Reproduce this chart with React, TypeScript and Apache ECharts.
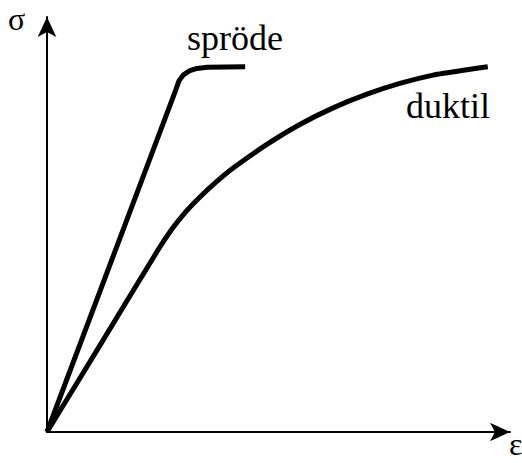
import React, { useEffect, useRef } from "react";
import * as echarts from "echarts";

// strain (ε) and stress (σ) in relative units 0..100
const sprodeStrain = [0, 27.8, 28.5, 29.4, 30.7, 32.4, 34.6, 42.8];
const sprodeStress = [0, 82.4, 84.6, 86.0, 87.0, 87.6, 87.9, 88.0];

const duktilStrain = [0, 11.5, 24.0, 27.0, 30.0, 33.1, 36.5, 40.2, 47.5, 54.6, 61.8, 69.1, 76.2, 83.4, 90.7, 95.2];
const duktilStress = [0, 21.0, 43.9, 48.9, 53.1, 56.7, 60.2, 63.6, 69.3, 74.1, 78.1, 81.4, 84.0, 86.0, 87.3, 88.0];

const curveLabels = ["spröde", "duktil"];
const axisLabels = ["σ", "ε"];

const FONT = "'Liberation Serif', 'Times New Roman', serif";

export default function App() {
  const ref = useRef<HTMLDivElement>(null);
  useEffect(() => {
    if (!ref.current) return;
    const chart = echarts.init(ref.current, null, { renderer: "svg" });
    const pair = (xs: number[], ys: number[]) => xs.map((x, i) => [x, ys[i]]);
    const axisCommon = {
      type: "value" as const,
      min: 0,
      max: 100,
      axisTick: { show: false },
      axisLabel: { show: false },
      splitLine: { show: false },
      axisLine: {
        show: true,
        symbol: ["none", "arrow"],
        symbolSize: [14, 20],
        lineStyle: { color: "#000", width: 2 },
      },
    };
    chart.setOption({
      animation: false,
      backgroundColor: "#fff",
      grid: { left: 47, right: 12, top: 17, bottom: 31 },
      xAxis: { ...axisCommon },
      yAxis: { ...axisCommon },
      series: [
        {
          type: "line",
          name: curveLabels[0],
          data: pair(sprodeStrain, sprodeStress),
          showSymbol: false,
          smooth: false,
          lineStyle: { color: "#000", width: 5, join: "round", cap: "butt" },
        },
        {
          type: "line",
          name: curveLabels[1],
          data: pair(duktilStrain, duktilStress),
          showSymbol: false,
          smooth: 0.2,
          lineStyle: { color: "#000", width: 5, join: "round", cap: "butt" },
        },
      ],
      graphic: [
        {
          type: "text",
          x: 187,
          y: 37.5,
          style: { text: curveLabels[0], font: `36px ${FONT}`, fill: "#000", verticalAlign: "middle", align: "left" },
        },
        {
          type: "text",
          x: 406,
          y: 105.5,
          style: { text: curveLabels[1], font: `36px ${FONT}`, fill: "#000", verticalAlign: "middle", align: "left" },
        },
        {
          type: "text",
          x: 8,
          y: 19,
          style: { text: axisLabels[0], font: `32px ${FONT}`, fill: "#000", verticalAlign: "middle", align: "left" },
        },
        {
          type: "text",
          x: 509,
          y: 444,
          style: { text: axisLabels[1], font: `32px ${FONT}`, fill: "#000", verticalAlign: "middle", align: "left" },
        },
      ],
    });
    return () => chart.dispose();
  }, []);
  return <div ref={ref} style={{ width: 522, height: 463, position: "absolute", left: 0, top: 0 }} />;
}
